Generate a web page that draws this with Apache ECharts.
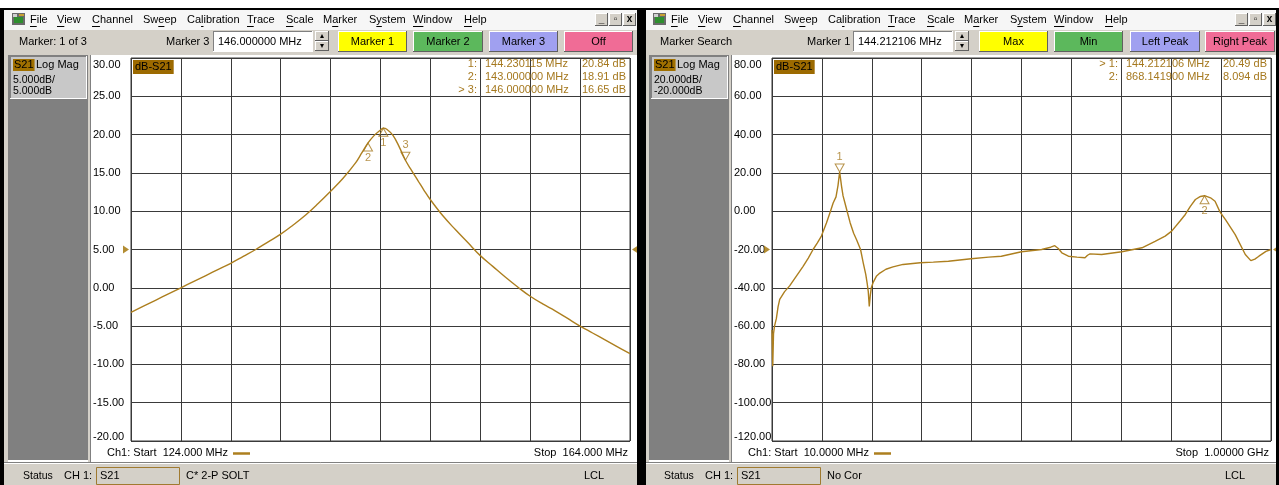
<!DOCTYPE html>
<html><head><meta charset="utf-8">
<script src="https://cdn.jsdelivr.net/npm/echarts@6/dist/echarts.min.js"></script>
<style>html,body{margin:0;padding:0;background:#fff}#c{width:1279px;height:485px}</style>
</head><body><div id="c"></div><script>
const FONT = "'Liberation Sans', Arial, sans-serif";
const TRACE = '#ad7f1f';
const MCOL = '#a5781e';

// ---- Left window: 124 - 164 MHz sweep (S21, 5 dB/div, ref 5 dB)
const leftFreq = [124,125,126,127,128,129,130,131,132,133,134,135,136,137,138,139,140,141,142,142.5,143,143.5,144,144.23,144.5,145,145.5,146,146.5,147,147.5,148,149,150,151,152,153,154,155,156,157,158,159,160,161,162,163,164];
const leftDb = [-3.2,-2.4,-1.6,-0.8,0.0,0.8,1.6,2.4,3.2,4.1,5.0,6.0,7.0,8.2,9.5,11.0,12.6,14.3,16.3,17.6,18.91,19.9,20.6,20.84,20.7,19.9,18.4,16.65,15.3,14.0,12.7,11.5,9.4,7.6,5.9,4.2,2.8,1.4,0.1,-1.1,-2.1,-3.0,-4.0,-5.0,-5.9,-6.8,-7.7,-8.6];
const leftMarkerNames = ['1','2','3'];
const leftMarkerFreq = [144.230115, 143.0, 146.0];
const leftMarkerDb = [20.84, 18.91, 16.65];
const leftActive = 2;
const leftRange = {xmin:124, xmax:164, xint:4, ymin:-20, ymax:30, yint:5, ref:5};

// ---- Right window: 10 MHz - 1 GHz sweep (S21, 20 dB/div, ref -20 dB)
const rightFreq = [10,11.5,13,15,18.7,22,25.3,35,45,58,71.7,82,91.5,100,108,118,126,131.3,137,141,144.2,146,148,151,155,159,165,172,178,185.7,191,196,199,201,203,205,207,211,217,224,236,250,270,304,330,360,405,440,465,505,545,563,571,578,585,598,615,631,636,641,664,704,744,770,790,803,820,830,840,850,860,868.14,880,889,899,910,929,949,960,968,976,990,1000];
const rightDb = [-62,-81,-64,-60,-56,-50,-46,-42,-39,-34,-28.8,-24.5,-20,-16.5,-13,-6.2,0,4.3,7.5,13.5,20.49,17,13,8,4,0,-6,-11.5,-15,-20,-27,-33,-38,-42,-49.7,-44,-40,-37,-34,-32.3,-30.3,-29.1,-27.8,-26.9,-26.6,-26.1,-24.8,-24,-23.5,-21.2,-20,-18.8,-18,-19.5,-21.7,-23.5,-24,-24.3,-23,-22.3,-22.6,-21.2,-19.1,-15.7,-13,-10.4,-5,-1.7,2.5,6.1,7.7,8.094,7,5.2,-0.5,-4.5,-12.2,-22.6,-25.8,-25,-23.5,-21,-20];
const rightMarkerNames = ['1','2'];
const rightMarkerFreq = [144.212106, 868.1419];
const rightMarkerDb = [20.49, 8.094];
const rightActive = 0;
const rightRange = {xmin:10, xmax:1000, xint:99, ymin:-120, ymax:80, yint:20, ref:-20};

// menu label, x position, index of underlined accelerator letter
const menuItems = [['File',30,0],['View',57,0],['Channel',92,0],['Sweep',143,2],['Calibration',187,2],['Trace',247,0],['Scale',286,0],['Marker',323,1],['System',369,1],['Window',413,0],['Help',464,0]];

const zip = (a,b) => a.map((v,i)=>[v,b[i]]);
const mctx = document.createElement('canvas').getContext('2d');
mctx.font = '11px ' + FONT;

const els = [];
function R(x,y,w,h,fill,stroke,lw){els.push({type:'rect',shape:{x,y,width:w,height:h},style:{fill:fill||'none',stroke:stroke||null,lineWidth:lw||1},z:10});}
function L(x1,y1,x2,y2,c,lw){els.push({type:'line',shape:{x1,y1,x2,y2},style:{stroke:c,lineWidth:lw||1},z:11});}
function T(x,y,text,o){o=o||{};els.push({type:'text',x,y,style:{text,fill:o.c||'#000',font:(o.w||'normal')+' '+(o.s||11)+'px '+FONT,textAlign:o.a||'left',textVerticalAlign:'middle',backgroundColor:o.bg,padding:o.pad},z:12});}
function raised(x,y,w,h,fill){R(x,y,w,h,fill);L(x,y+0.5,x+w,y+0.5,'#ffffff');L(x+0.5,y,x+0.5,y+h,'#ffffff');L(x,y+h-0.5,x+w,y+h-0.5,'#606060');L(x+w-0.5,y,x+w-0.5,y+h,'#606060');}
function sunken(x,y,w,h,fill){R(x,y,w,h,fill);L(x,y+0.5,x+w,y+0.5,'#808080');L(x+0.5,y,x+0.5,y+h,'#808080');L(x,y+h-0.5,x+w,y+h-0.5,'#ffffff');L(x+w-0.5,y,x+w-0.5,y+h,'#ffffff');}

function windowChrome(ox, x0, x1, cfg){
  R(x0,10,x1-x0,20,'#f6f6f6');
  // app icon
  R(ox+12,13,13,12,'#6a6a6a'); R(ox+14,17,9,6,'#2f8f2f'); R(ox+13,14,4,3,'#d0d0d0'); R(ox+19,14,5,2,'#c8a030');
  menuItems.forEach(m=>{
    T(ox+m[1],20,m[0]);
    const pre = mctx.measureText(m[0].slice(0,m[2])).width;
    const cw = mctx.measureText(m[0].charAt(m[2])).width;
    L(ox+m[1]+pre, 26.5, ox+m[1]+pre+cw, 26.5, '#000', 1);
  });
  // window controls
  const cs = cfg.ctrlShift||0;
  [['_',595],['▫',609],['x',623]].forEach(b=>{raised(ox+b[1]+cs,13,13,13,'#d4d0c8');T(ox+b[1]+cs+6.5,19.5,b[0],{a:'center',w:'bold',s:10});});
  // toolbar
  R(x0,30,x1-x0,23,'#d4d0c8');
  T(ox+cfg.tbX,42,cfg.tbLabel);
  T(ox+cfg.mkX,42,cfg.mkLabel);
  sunken(ox+cfg.inX,31,100,21,'#ffffff');
  T(ox+cfg.inX+5,42,cfg.inText);
  raised(ox+cfg.inX+102,31,14,10,'#d4d0c8'); raised(ox+cfg.inX+102,41,14,10,'#d4d0c8');
  T(ox+cfg.inX+109,36,'▴',{a:'center',s:8}); T(ox+cfg.inX+109,46,'▾',{a:'center',s:8});
  cfg.buttons.forEach(b=>{raised(b[1],31,b[2]-b[1],21,b[3]);T((b[1]+b[2])/2,42,b[0],{a:'center'});});
  // main frame
  R(x0,53,x1-x0,2,'#d4d0c8');
  R(x0,55,ox+8-x0,407,'#d4d0c8');
  R(ox+8,55,80,405,'#808080');
  R(ox+88,55,3,407,'#d4d0c8');
  L(ox+90.5,55,ox+90.5,462,'#808080');
  // channel info box
  sunken(ox+10,56,77,43,'#c8c8c8');
  T(ox+13,65,'S21',{bg:'#a07000',pad:[1,1,0,1]});
  T(ox+36,65,'Log Mag');
  T(ox+13,80,cfg.scale1,{s:10.5});
  T(ox+13,91,cfg.scale2,{s:10.5});
  // dB-S21 label
  T(cfg.gridLeft+2,67,'dB-S21',{bg:'#9c6a00',pad:[2,2,1,2]});
  // sweep info
  T(ox+107,453,cfg.start);
  L(ox+233,453.5,ox+250,453.5,TRACE,2.5);
  T(ox+628,453,cfg.stop,{a:'right'});
  // status bar
  R(x0,462,x1-x0,23,'#d4d0c8');
  L(x0,462.5,x1,462.5,'#808080'); L(x0,463.5,x1,463.5,'#ffffff');
  T(ox+23,476,'Status',{s:10.5});
  T(ox+64,476,'CH 1:');
  R(ox+96.5,467.5,83,17,'#d4d0c8','#a07a30',1);
  T(ox+100,476,'S21');
  T(ox+186,476,cfg.cal);
  T(ox+584,476,'LCL');
  // marker readouts
  cfg.names.forEach((n,i)=>{
    const y = 64 + i*13;
    T(ox+477,y,(i===cfg.active?'> ':'')+n+':',{a:'right',c:MCOL});
    T(ox+485,y,cfg.mf[i].toFixed(6)+' MHz',{c:MCOL});
    T(ox+626,y,cfg.md[i].toPrecision(4)+' dB',{a:'right',c:MCOL});
  });
}

// frame
R(0,8,1279,2,'#000'); R(0,8,4,477,'#000'); R(637,8,9,477,'#000'); R(1276,8,3,477,'#000');

windowChrome(0,4,637,{tbX:19,tbLabel:'Marker: 1 of 3',mkX:166,mkLabel:'Marker 3',inX:213,inText:'146.000000 MHz',
  buttons:[['Marker 1',338,407,'#ffff00'],['Marker 2',413,483,'#5cb85c'],['Marker 3',489,558,'#a0a0f0'],['Off',564,633,'#f06c96']],
  scale1:'5.000dB/',scale2:'5.000dB',gridLeft:131,start:'Ch1: Start  124.000 MHz',stop:'Stop  164.000 MHz',cal:'C* 2-P SOLT',
  names:leftMarkerNames,mf:leftMarkerFreq,md:leftMarkerDb,active:leftActive});
windowChrome(641,646,1276,{tbX:19,tbLabel:'Marker Search',mkX:166,mkLabel:'Marker 1',inX:212,inText:'144.212106 MHz',
  buttons:[['Max',979,1048,'#ffff00'],['Min',1054,1123,'#5cb85c'],['Left Peak',1130,1200,'#a0a0f0'],['Right Peak',1205,1275,'#f06c96']],
  scale1:'20.000dB/',scale2:'-20.000dB',gridLeft:772,start:'Ch1: Start  10.0000 MHz',stop:'Stop  1.00000 GHz',cal:'No Cor',ctrlShift:-1,
  names:rightMarkerNames,mf:rightMarkerFreq,md:rightMarkerDb,active:rightActive});

function yAxisFor(r, gi){
  return {type:'value', gridIndex:gi, min:r.ymin, max:r.ymax, interval:r.yint,
    axisLine:{show:false}, axisTick:{show:false},
    splitLine:{show:true, lineStyle:{color:'#3a3a3a', width:1}},
    axisLabel:{show:true, align:'left', margin:38, color:'#000', fontFamily:FONT, fontSize:11,
      showMinLabel:true, showMaxLabel:true,
      formatter:(v)=>{const s=v.toFixed(2); return v===r.ymax?'{t|'+s+'}':(v===r.ymin?'{b|'+s+'}':s);},
      rich:{t:{fontFamily:FONT,fontSize:11,color:'#000',padding:[14,0,0,0]}, b:{fontFamily:FONT,fontSize:11,color:'#000',padding:[0,0,8,0]}}}};
}
function xAxisFor(r, gi){
  return {type:'value', gridIndex:gi, min:r.xmin, max:r.xmax, interval:r.xint,
    axisLine:{show:false}, axisTick:{show:false}, axisLabel:{show:false},
    splitLine:{show:true, lineStyle:{color:'#3a3a3a', width:1}}};
}
const upTri = 'path://M5,0 L10,8 L0,8 Z';
const dnTri = 'path://M0,0 L10,0 L5,8 Z';
const refR = 'path://M0,0 L7,5 L0,10 Z';
const refL = 'path://M7,0 L0,5 L7,10 Z';

function seriesFor(gi, f, d, names, mf, md, active, r){
  const mk = names.map((n,i)=>({name:n, value:[mf[i], md[i]]}));
  const inactive = mk.filter((m,i)=>i!==active);
  const act = mk.filter((m,i)=>i===active);
  const common = {type:'scatter', xAxisIndex:gi, yAxisIndex:gi, clip:false, silent:true, z:5};
  return [
    {type:'line', xAxisIndex:gi, yAxisIndex:gi, data:zip(f,d), showSymbol:false, smooth:gi===0?0.4:false,
      lineStyle:{color:TRACE, width:1.4}, z:3},
    Object.assign({}, common, {data:inactive, symbol:upTri, symbolSize:[9,8], symbolOffset:[0,4],
      itemStyle:{color:'rgba(255,255,255,0)', borderColor:MCOL, borderWidth:1},
      label:{show:true, position:'bottom', distance:1, formatter:'{b}', color:MCOL, fontFamily:FONT, fontSize:11}}),
    Object.assign({}, common, {data:act, symbol:dnTri, symbolSize:[9,8], symbolOffset:[0,-4],
      itemStyle:{color:'rgba(255,255,255,0)', borderColor:MCOL, borderWidth:1},
      label:{show:true, position:'top', distance:1, formatter:'{b}', color:MCOL, fontFamily:FONT, fontSize:11}}),
    Object.assign({}, common, {data:[[r.xmin, r.ref]], symbol:refR, symbolSize:[6,8], symbolOffset:[-5,0], itemStyle:{color:'#a07000'}}),
    Object.assign({}, common, {data:[[r.xmax, r.ref]], symbol:refL, symbolSize:[6,8], symbolOffset:[5,0], itemStyle:{color:'#a07000'}})
  ];
}

const chart = echarts.init(document.getElementById('c'), null, {renderer:'canvas'});
chart.setOption({
  animation:false,
  backgroundColor:'#ffffff',
  textStyle:{fontFamily:FONT},
  grid:[
    {left:131, top:58, width:499, height:383, show:true, borderColor:'#3a3a3a', borderWidth:1, backgroundColor:'transparent'},
    {left:772, top:58, width:499, height:383, show:true, borderColor:'#3a3a3a', borderWidth:1, backgroundColor:'transparent'}
  ],
  xAxis:[xAxisFor(leftRange,0), xAxisFor(rightRange,1)],
  yAxis:[yAxisFor(leftRange,0), yAxisFor(rightRange,1)],
  series:[].concat(
    seriesFor(0, leftFreq, leftDb, leftMarkerNames, leftMarkerFreq, leftMarkerDb, leftActive, leftRange),
    seriesFor(1, rightFreq, rightDb, rightMarkerNames, rightMarkerFreq, rightMarkerDb, rightActive, rightRange)
  ),
  graphic:{elements:els}
});
</script></body></html>
